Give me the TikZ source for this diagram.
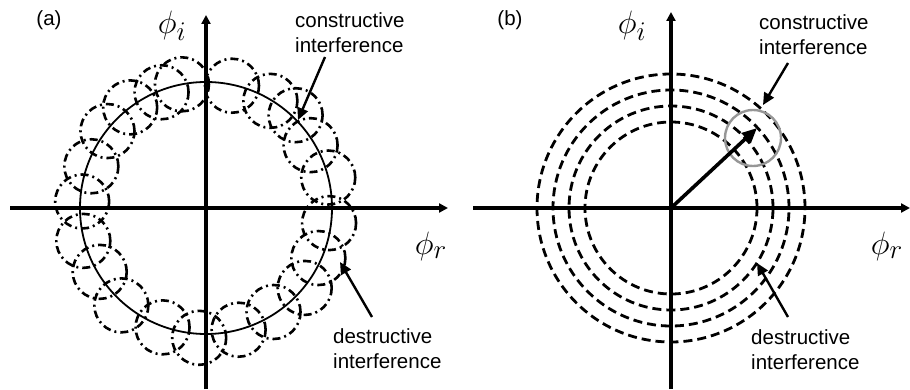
\documentclass[tikz,border=0pt]{standalone}
\usepackage{amsmath}
\usepackage{fontspec}
\setsansfont{Liberation Sans}
\usetikzlibrary{
	arrows.meta,
	calc
}
\definecolor{RingGray}{RGB}{150,150,150}

\begin{document}
\begin{tikzpicture}[x=1pt, y=1pt,
		axis/.style={line width=3.6pt, -{Triangle[length=9pt, width=9pt]}},
		pointer/.style={line width=2.4pt, -{Triangle[length=12pt, width=11pt]}},
		phasor/.style={line width=3.6pt, -{Triangle[length=15pt, width=13pt]}},
		dashdot ring/.style={line width=2.6pt, dash pattern=on 8pt off 4pt on 2pt off 4pt},
		dash ring/.style={line width=2.8pt, dash pattern=on 9pt off 5pt},
		lbl/.style={font=\fontsize{20.5}{25}\selectfont\sffamily, align=left, inner sep=0pt, anchor=west},
		var/.style={font=\fontsize{24.88}{30}\selectfont, inner sep=0pt, scale=1.3}]
		\useasboundingbox (0,0) rectangle (910,389);
		
		% (a) 随机相位的叠加
		\coordinate (Oa) at (206,181);
		\coordinate (xa0) at (10,181);
		\coordinate (xa1) at (448,181);
		\coordinate (ya0) at (206,0);
		\coordinate (ya1) at (206,374);
		\draw[axis] (xa0) -- (xa1);
		\draw[axis] (ya0) -- (ya1);
		\draw[line width=1.8pt] (Oa) circle (126);
		\foreach \ang/\rad in {14/126, 31/122, 46/129, 59/125, 78/125, 101/126, 111/124,
			127/126, 142/125, 160/122, 177/124, 195/127, 211/124, 229/129, 250/127,
			267/130, 285/126, 303/124, 321/127, 336/123, 353/124}
			\draw[dashdot ring] ($(Oa)+(\ang:\rad)$) circle (27);
		
		\node[lbl, anchor=center] (tagA) at (49,369) {(a)};
		\node[var] (phiIA) at (172,363) {$\phi_i$};
		\node[var] (phiRA) at (431,143) {$\phi_r$};
		\node[lbl] (consA) at (295,356.5) {constructive\\interference};
		\node[lbl] (destA) at (333,40.5) {destructive\\interference};
		\coordinate (cA1) at (325,332);
		\coordinate (cA2) at (298,269);
		\coordinate (dA1) at (372,72);
		\coordinate (dA2) at (340,127);
		\draw[pointer] (cA1) -- (cA2);
		\draw[pointer] (dA1) -- (dA2);
		
		% (b) 相位一致的叠加
		\coordinate (Ob) at (671,181);
		\coordinate (xb0) at (473,181);
		\coordinate (xb1) at (910,181);
		\coordinate (yb0) at (671,0);
		\coordinate (yb1) at (671,377);
		\draw[axis] (xb0) -- (xb1);
		\draw[axis] (yb0) -- (yb1);
		\foreach \rad in {86,102,118,134}
			\draw[dash ring] (Ob) circle (\rad);
		\draw[RingGray, line width=2.4pt] (753,251) circle (28);
		\coordinate (tipB) at (757,261);
		\draw[phasor] (Ob) -- (tipB);
		
		\node[lbl, anchor=center] (tagB) at (510,369) {(b)};
		\node[var] (phiIB) at (632,363) {$\phi_i$};
		\node[var] (phiRB) at (887,143) {$\phi_r$};
		\node[lbl] (consB) at (759,354) {constructive\\interference};
		\node[lbl] (destB) at (751,39.5) {destructive\\interference};
		\coordinate (cB1) at (788,326);
		\coordinate (cB2) at (763,284);
		\coordinate (dB1) at (788,72);
		\coordinate (dB2) at (757,126);
		\draw[pointer] (cB1) -- (cB2);
		\draw[pointer] (dB1) -- (dB2);
	\end{tikzpicture}
\end{document}
